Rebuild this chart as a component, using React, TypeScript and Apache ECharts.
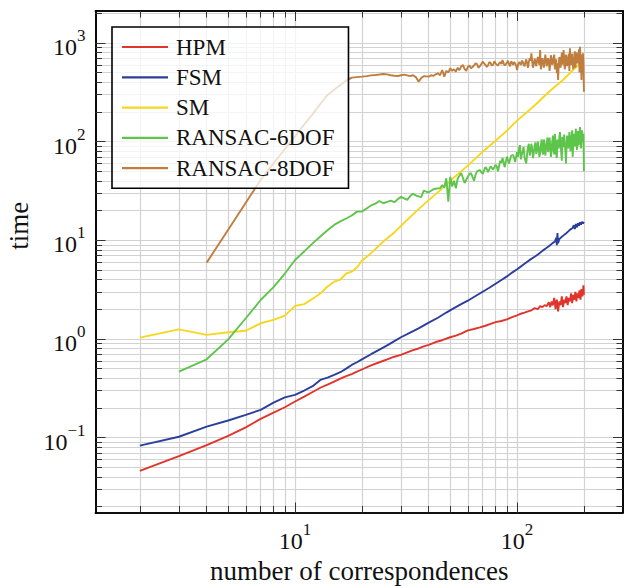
import React, { useEffect, useRef } from "react";
import * as echarts from "echarts";

const SERIF = '"Liberation Serif", "DejaVu Serif", serif';

const seriesNames = ["HPM", "FSM", "SM", "RANSAC-6DOF", "RANSAC-8DOF"];
const seriesColors = ["#e0352b", "#2c3e9c", "#f6d71f", "#5ec54b", "#c07e3e"];

const hpm: number[][] = [
  [2, 0.046], [3, 0.065], [4, 0.084], [5, 0.104], [6, 0.127], [7, 0.155], [8, 0.179], [9, 0.203],
  [10, 0.232], [11, 0.26], [12, 0.29], [13, 0.32], [14, 0.345], [15, 0.37], [16, 0.395], [17, 0.42],
  [18, 0.44], [19, 0.465], [20, 0.49], [22, 0.54], [24, 0.58], [26, 0.62], [28, 0.66], [30, 0.69],
  [32, 0.73], [34, 0.77], [36, 0.8], [38, 0.84], [40, 0.87], [43, 0.93], [46, 0.97], [50, 1.04],
  [53, 1.08], [56, 1.13], [60, 1.22], [64, 1.26], [68, 1.31], [72, 1.36], [76, 1.42], [80, 1.48],
  [85, 1.52], [90, 1.58], [95, 1.66], [100, 1.73], [104, 1.8], [108, 1.85], [112, 1.9], [116, 1.95],
  [120, 2.05], [124, 2.0], [127, 2.15], [130, 2.1], [133, 2.2], [136, 2.15], [139, 2.35], [141, 2.1],
  [143, 2.4], [144, 2.25], [145, 2.2], [147, 2.6], [148, 2.3], [149, 2.0], [151, 2.5], [152, 2.2],
  [153, 1.9], [155, 2.4], [156, 2.3], [157, 2.2], [159, 2.7], [160, 2.35], [161, 2.1], [163, 2.5],
  [165, 2.3], [166, 2.55], [167, 2.7], [169, 2.2], [170, 2.45], [171, 2.6], [173, 2.4], [175, 2.9],
  [176, 2.6], [177, 2.3], [179, 2.8], [180, 2.55], [181, 2.5], [183, 3.0], [185, 2.4], [186, 2.7],
  [187, 2.9], [189, 2.6], [191, 3.1], [192, 2.8], [193, 2.5], [195, 3.2], [196, 2.9], [197, 2.7],
  [199, 3.5], [200, 2.8],
];

const fsm: number[][] = [
  [2, 0.083], [3, 0.102], [4, 0.129], [5, 0.149], [6, 0.17], [7, 0.191], [8, 0.226], [9, 0.256],
  [10, 0.271], [11, 0.3], [12, 0.332], [13, 0.384], [14, 0.405], [15, 0.432], [16, 0.46], [17, 0.5],
  [18, 0.545], [19, 0.58], [20, 0.62], [22, 0.7], [24, 0.78], [26, 0.86], [28, 0.95], [30, 1.04],
  [33, 1.16], [36, 1.28], [40, 1.46], [44, 1.64], [48, 1.85], [52, 2.05], [56, 2.25], [60, 2.44],
  [65, 2.72], [70, 3.01], [75, 3.3], [80, 3.62], [85, 3.95], [90, 4.3], [95, 4.7], [100, 5.08],
  [105, 5.5], [110, 5.95], [115, 6.4], [120, 6.8], [125, 7.25], [130, 7.8], [135, 8.3], [140, 8.8],
  [144, 9.3], [148, 9.7], [150, 10.6], [151, 8.9], [152, 11.8], [153, 9.3], [155, 10.3], [158, 10.7],
  [162, 11.2], [166, 11.7], [170, 12.3], [174, 12.9], [178, 13.3], [180, 14.2], [182, 13.0], [184, 14.6],
  [186, 13.5], [188, 14.9], [190, 14.0], [192, 15.2], [194, 14.4], [196, 15.4], [198, 14.8], [200, 15.3],
];

const sm: number[][] = [
  [2, 1.03], [3, 1.25], [4, 1.1], [5, 1.17], [6, 1.21], [7, 1.44], [8, 1.56], [9, 1.72], [10, 2.16],
  [11, 2.25], [12, 2.55], [13, 2.88], [14, 3.4], [15, 3.8], [16, 4.0], [17, 4.6], [18, 4.8], [19, 5.3],
  [20, 6.2], [22, 7.4], [25, 9.7], [28, 12], [30, 14], [35, 19.5], [40, 25.5], [45, 32], [50, 40],
  [60, 57], [70, 79], [80, 102], [90, 129], [100, 163], [120, 232], [140, 323], [160, 416], [180, 540],
  [200, 670],
];

const ransac6: number[][] = [
  [3, 0.467], [4, 0.622], [5, 0.99], [6, 1.62], [7, 2.48], [8, 3.35], [9, 4.6], [10, 6.3], [11, 7.7],
  [12, 9.3], [13, 10.9], [14, 12.6], [15, 14.3], [16, 15.5], [17, 16.6], [18, 17.8], [19, 19.5],
  [20, 19.5], [21, 21.0], [22, 22.5], [23, 23.5], [24, 25], [25, 23.7], [26, 24.5], [27, 25.2],
  [28, 24.3], [29, 26.0], [30, 27.5], [31, 26.5], [32, 25.6], [33, 28], [34, 29.5], [35, 28.5],
  [36, 27.8], [37, 27.3], [38, 31.8], [39, 31], [40, 30.6], [42, 32.9], [44, 33.5], [45, 33.6],
  [46, 36.3], [47, 34], [48, 42.5], [49, 24.6], [50, 44], [51, 35], [52, 40], [53, 33.6], [54, 42],
  [55, 45], [56, 48], [57, 43], [58, 38], [60, 44], [61, 47], [62, 48], [64, 40], [65, 46], [66, 50],
  [68, 51.5], [69, 49], [70, 47], [72, 55], [73, 53], [74, 49], [76, 56], [77, 54], [78, 52], [80, 58],
  [81, 56], [82, 50], [84, 64], [85, 61], [86, 68], [88, 55], [89, 63], [90, 70], [92, 60], [93, 66],
  [94, 72], [96, 73], [97, 68], [98, 62], [99, 70],
  [100, 78], [101, 70], [102, 85], [103, 92], [104, 66], [105, 74], [106, 80], [107, 88], [108, 70],
  [109, 64], [110, 60], [111, 76], [112, 88], [113, 95], [114, 72], [115, 80], [116, 95], [117, 84],
  [118, 68], [119, 78], [120, 90], [121, 98], [122, 75], [123, 82], [124, 100], [125, 88], [126, 70],
  [127, 76], [128, 92], [129, 105], [130, 80], [131, 74], [132, 105], [133, 96], [134, 72], [135, 84],
  [136, 95], [137, 110], [138, 78], [139, 86], [140, 110], [141, 92], [142, 70], [143, 80], [144, 100],
  [145, 115], [146, 82], [147, 74], [148, 120], [149, 98], [150, 75], [151, 68], [152, 105], [153, 90],
  [154, 85], [155, 110], [156, 125], [157, 96], [158, 78], [159, 64], [160, 112], [161, 100], [162, 88],
  [163, 118], [164, 95], [165, 80], [166, 60], [167, 90], [168, 115], [169, 105], [170, 85], [171, 96],
  [172, 125], [173, 110], [174, 80], [175, 92], [176, 110], [177, 130], [178, 70], [179, 88], [180, 120],
  [181, 104], [182, 90], [183, 115], [184, 135], [185, 98], [186, 82], [187, 110], [188, 128], [189, 92],
  [190, 95], [191, 120], [192, 140], [193, 105], [194, 85], [195, 100], [196, 130], [197, 118], [198, 100],
  [199, 120], [200, 50],
];

const ransac8: number[][] = [
  [4, 5.93], [5, 12.8], [6, 24], [7, 40.8], [8, 60], [9, 84], [10, 113], [11, 149], [12, 190], [13, 240],
  [14, 297], [15, 335], [16, 375], [17, 415], [18, 445], [19, 450], [20, 455], [21, 460], [22, 468],
  [23, 472], [24, 478], [25, 484], [26, 480], [27, 470], [28, 465], [29, 462], [30, 470], [31, 476],
  [32, 468], [33, 460], [34, 470], [35, 450], [36, 405], [37, 440], [38, 460], [39, 458], [40, 455],
  [41, 470], [42, 462], [43, 480], [44, 492], [45, 470], [46, 531], [47, 455], [48, 520], [49, 500],
  [50, 553], [51, 520], [52, 540], [53, 510], [54, 560], [55, 530], [56, 575], [57, 597], [58, 545],
  [59, 520], [60, 570], [61, 590], [62, 553], [63, 570], [64, 590], [65, 620], [66, 610], [67, 560],
  [68, 580], [69, 610], [70, 645], [71, 620], [72, 600], [73, 570], [74, 590], [75, 640], [76, 625],
  [77, 590], [78, 600], [79, 650], [80, 621], [81, 600], [82, 590], [83, 620], [84, 640], [85, 610],
  [86, 671], [87, 620], [88, 590], [89, 610], [90, 630], [91, 660], [92, 610], [93, 580], [94, 650],
  [95, 630], [96, 600], [97, 640], [98, 620], [99, 590],
  [100, 531], [101, 600], [102, 640], [103, 620], [104, 600], [105, 660], [106, 645], [107, 600],
  [108, 580], [109, 640], [110, 680], [111, 620], [112, 560], [113, 640], [114, 700], [115, 660],
  [116, 785], [117, 640], [118, 560], [119, 620], [120, 690], [121, 640], [122, 580], [123, 660],
  [124, 720], [125, 650], [126, 600], [127, 848], [128, 540], [129, 620], [130, 700], [131, 650],
  [132, 560], [133, 640], [134, 760], [135, 680], [136, 580], [137, 620], [138, 700], [139, 660],
  [140, 520], [141, 600], [142, 750], [143, 690], [144, 600], [145, 640], [146, 700], [147, 760],
  [148, 540], [149, 620], [150, 680], [151, 492], [152, 620], [153, 421], [154, 600], [155, 720],
  [156, 680], [157, 560], [158, 640], [159, 800], [160, 700], [161, 600], [162, 848], [163, 650],
  [164, 540], [165, 620], [166, 760], [167, 700], [168, 580], [169, 640], [170, 700], [171, 780],
  [172, 520], [173, 881], [174, 640], [175, 600], [176, 700], [177, 780], [178, 620], [179, 540],
  [180, 660], [181, 720], [182, 820], [183, 560], [184, 640], [185, 800], [186, 700], [187, 620],
  [188, 680], [189, 754], [190, 860], [191, 500], [192, 915], [193, 700], [194, 620], [195, 421],
  [196, 760], [197, 680], [198, 785], [199, 600], [200, 320],
];

const seriesData = [hpm, fsm, sm, ransac6, ransac8];

const xGridValues = [2, 3, 4, 5, 6, 7, 8, 9, 10, 20, 30, 40, 50, 60, 70, 80, 90, 100, 200];
const yGridValues = [
  0.02, 0.03, 0.04, 0.05, 0.06, 0.07, 0.08, 0.09,
  0.1, 0.2, 0.3, 0.4, 0.5, 0.6, 0.7, 0.8, 0.9,
  1, 2, 3, 4, 5, 6, 7, 8, 9,
  10, 20, 30, 40, 50, 60, 70, 80, 90,
  100, 200, 300, 400, 500, 600, 700, 800, 900,
  1000, 2000,
];
const xMajorExponents = [1, 2];
const yMajorExponents = [-1, 0, 1, 2, 3];

const X_LOG_MIN = 0.1014;
const X_LOG_MAX = 2.477;
const Y_LOG_MIN = -1.759;
const Y_LOG_MAX = 3.323;

const lg = (v: number) => Math.log10(v);

const supFmt = (v: number) => {
  const n = Math.round(v);
  const s = n < 0 ? "\u2212" + String(-n) : String(n);
  return `{b|10}{s|${s}}`;
};

const rich = {
  b: { fontFamily: SERIF, fontSize: 24, lineHeight: 32, color: "#111", verticalAlign: "bottom" },
  s: { fontFamily: SERIF, fontSize: 17, lineHeight: 17, color: "#111", verticalAlign: "top" },
};

const tickStyle = { color: "#333", width: 1 };
const frameLine = { show: true, onZero: false, lineStyle: { color: "#000", width: 1.6 } };

function makeX(position: string, len: number, values: number[], extra: any = {}) {
  return {
    type: "value",
    position,
    min: X_LOG_MIN,
    max: X_LOG_MAX,
    axisLine: frameLine,
    axisTick: { show: true, inside: true, length: len, customValues: values, lineStyle: tickStyle },
    axisLabel: { show: false },
    splitLine: { show: false },
    ...extra,
  };
}
function makeY(position: string, len: number, values: number[], extra: any = {}) {
  return {
    type: "value",
    position,
    min: Y_LOG_MIN,
    max: Y_LOG_MAX,
    axisLine: frameLine,
    axisTick: { show: true, inside: true, length: len, customValues: values, lineStyle: tickStyle },
    axisLabel: { show: false },
    splitLine: { show: false },
    ...extra,
  };
}

export default function App() {
  const ref = useRef<HTMLDivElement>(null);
  useEffect(() => {
    document.body.style.margin = "0";
    if (!ref.current) return;
    const chart = echarts.init(ref.current, null, { renderer: "svg" });
    const xAll = xGridValues.map(lg);
    const yAll = yGridValues.map(lg);
    const xMaj = xMajorExponents.slice();
    const yMaj = yMajorExponents.slice();
    const gridLineStyle = { color: "#d2d2d2", width: 1.2 };

    const option: any = {
      animation: false,
      backgroundColor: "#fff",
      grid: { left: 95.5, right: 1, top: 11, bottom: 73.5, containLabel: false, outerBoundsMode: "none" },
      xAxis: [
        makeX("bottom", 6.5, xAll, {
          splitLine: { show: true, lineStyle: gridLineStyle },
          axisLabel: { show: true, customValues: xMaj, formatter: supFmt, rich, margin: 8 },
          name: "number of correspondences",
          nameLocation: "middle",
          nameGap: 33,
          nameTextStyle: { fontFamily: SERIF, fontSize: 27, color: "#111" },
        }),
        makeX("top", 6.5, xAll),
        makeX("bottom", 10, xMaj),
        makeX("top", 10, xMaj),
      ],
      yAxis: [
        makeY("left", 6.5, yAll, {
          splitLine: { show: true, lineStyle: gridLineStyle },
          axisLabel: { show: true, customValues: yMaj, formatter: supFmt, rich, margin: 10 },
          name: "time",
          nameLocation: "middle",
          nameGap: 62,
          nameTextStyle: { fontFamily: SERIF, fontSize: 27, color: "#111", padding: [0, 0, 0, 72] },
        }),
        makeY("right", 6.5, yAll),
        makeY("left", 10, yMaj),
        makeY("right", 10, yMaj),
      ],
      legend: {
        data: seriesNames,
        orient: "vertical",
        left: 112,
        top: 27,
        padding: [8, 14, 8, 10],
        itemWidth: 46,
        itemHeight: 2.2,
        itemGap: 6.3,
        icon: "rect",
        backgroundColor: "rgba(255,255,255,0.75)",
        borderColor: "#000",
        borderWidth: 1.6,
        borderRadius: 0,
        textStyle: { fontFamily: SERIF, fontSize: 23, color: "#111", lineHeight: 24, padding: [0, 0, 0, 3] },
      },
      series: seriesNames.map((name, i) => ({
        name,
        type: "line",
        xAxisIndex: 0,
        yAxisIndex: 0,
        symbol: "none",
        showSymbol: false,
        color: seriesColors[i],
        lineStyle: { color: seriesColors[i], width: 1.9 },
        data: seriesData[i].map(([x, y]) => [lg(x), lg(y)]),
      })),
    };
    chart.setOption(option);
    return () => chart.dispose();
  }, []);
  return <div ref={ref} style={{ position: "absolute", left: 0, top: 0, width: 624, height: 586 }} />;
}
